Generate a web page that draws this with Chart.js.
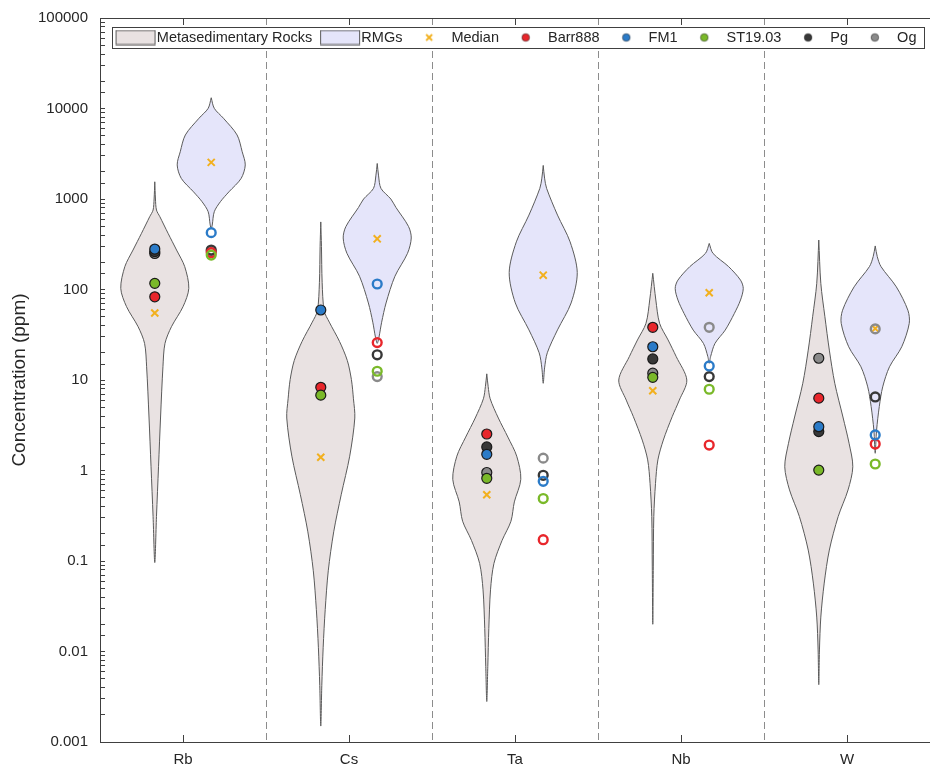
<!DOCTYPE html>
<html>
<head>
<meta charset="utf-8">
<title>Trace element concentrations – violin plot</title>
<script src="https://cdn.jsdelivr.net/npm/chart.js@4.4.1/dist/chart.umd.min.js"></script>
<style>
  html, body { margin: 0; padding: 0; background: #fff; }
  #wrap { position: relative; width: 930px; height: 769px; }
</style>
</head>
<body>
<div id="wrap"><canvas id="chart"></canvas></div>
<script>
// ── Data ──────────────────────────────────────────────────────────────────────

const CATEGORIES = ['Rb', 'Cs', 'Ta', 'Nb', 'W'];
const Y_MAJOR = [0.001, 0.01, 0.1, 1, 10, 100, 1000, 10000, 100000];
const Y_TICK_LABELS = ['0.001', '0.01', '0.1', '1', '10', '100', '1000', '10000', '100000'];

// violin outlines: [ppm, relative density], top tip to bottom tip
const META_RB = [[1550, 0], [1000, 0.02], [755, 0.05], [637, 0.15], [418, 0.39], [273, 0.64], [179, 0.88], [103, 1], [64.6, 0.83], [38.8, 0.49], [25.4, 0.3], [14, 0.24], [3.9, 0.17], [1.1, 0.11], [0.31, 0.05], [0.096, 0]];
const META_CS = [[558, 0], [300, 0.02], [120, 0.04], [58, 0.1], [43.6, 0.25], [26.7, 0.55], [16.4, 0.78], [10.1, 0.9], [6.2, 0.96], [3.8, 1], [1.44, 0.85], [0.54, 0.6], [0.21, 0.38], [0.078, 0.22], [0.029, 0.13], [0.011, 0.07], [0.0042, 0.03], [0.0015, 0]];
const META_TA = [[11.7, 0], [8.5, 0.04], [6.2, 0.1], [3.8, 0.34], [2.34, 0.62], [1.44, 0.88], [0.8, 1], [0.45, 0.81], [0.275, 0.71], [0.169, 0.45], [0.094, 0.21], [0.048, 0.11], [0.018, 0.06], [0.0068, 0.03], [0.0028, 0]];
const META_NB = [[151, 0], [76.6, 0.09], [42.3, 0.2], [27.7, 0.45], [18.1, 0.69], [10, 1], [6, 0.78], [3.93, 0.57], [2.17, 0.31], [1.31, 0.15], [0.72, 0.08], [0.31, 0.03], [0.086, 0.015], [0.02, 0]];
const META_W = [[352, 0], [117, 0.06], [50, 0.18], [21.4, 0.31], [9.2, 0.47], [3.9, 0.71], [2, 0.89], [1.1, 1], [0.61, 0.86], [0.31, 0.57], [0.132, 0.31], [0.057, 0.16], [0.024, 0.06], [0.0104, 0.02], [0.0043, 0]];

const RMG_RB = [[13150, 0], [10040, 0.09], [7800, 0.36], [5100, 0.76], [3330, 0.91], [2380, 1], [1690, 0.88], [1200, 0.52], [934, 0.27], [724, 0.09], [516, 0.03], [474, 0]];
const RMG_CS = [[2470, 0], [1800, 0.04], [1310, 0.11], [1000, 0.4], [807, 0.55], [497, 0.92], [371, 1], [251, 0.89], [140, 0.52], [71, 0.26], [43.5, 0.13], [29.5, 0.05], [25.4, 0]];
const RMG_TA = [[2350, 0], [1700, 0.04], [1310, 0.1], [664, 0.42], [336, 0.79], [154, 1], [71, 0.82], [35.8, 0.42], [20, 0.12], [13.6, 0.04], [9.2, 0]];
const RMG_NB = [[323, 0], [251, 0.11], [179, 0.57], [127, 0.92], [103, 1], [76.6, 0.92], [54.5, 0.74], [35.6, 0.47], [25.4, 0.17], [18.1, 0.04], [15.3, 0]];
const RMG_W = [[303, 0], [231, 0.06], [179, 0.17], [107, 0.62], [59, 0.96], [42.3, 1], [23.3, 0.78], [14, 0.42], [8.4, 0.22], [5.1, 0.12], [2.8, 0.04], [1.55, 0]];

const META_MEDIAN = [55, 1.4, 0.54, 7.6, 1.0];
const RMG_MEDIAN = [2540, 363, 144, 92, 37];

const SAMPLES = ['Barr888', 'FM1', 'ST19.03', 'Pg', 'Og'];
const BARR888_META = [83, 8.3, 2.53, 38.2, 6.3];
const FM1_META = [280, 59.4, 1.51, 23.3, 3.05];
const ST1903_META = [117, 6.8, 0.82, 10.7, 1.01];
const PG_META = [262, null, 1.82, 17.1, 2.69];
const OG_META = [250, null, 0.95, 11.9, 17.4];

const BARR888_RMG = [255, 25.9, 0.172, 1.91, 1.96];
const FM1_RMG = [425, 115, 0.76, 14.3, 2.47];
const ST1903_RMG = [240, 12.5, 0.49, 7.9, 1.18];
const PG_RMG = [273, 19, 0.885, 10.9, 6.5];
const OG_RMG = [265, 10.9, 1.37, 38.2, 36.7];

// ── Styling ───────────────────────────────────────────────────────────────────

const HALF_W = 0.205;   // widest violin half-width, category units
const OFFSET = 0.17;    // violin centre offset from the category tick
const META_FILL = 'rgb(233,226,226)';
const RMG_FILL = 'rgb(229,229,250)';
const OUTLINE = '#5a5a5a';
const AXIS = '#404040';
const TEXT = '#262626';
const MEDIAN_COLOR = '#f2b01e';
const SAMPLE_COLORS = ['#e8262b', '#2b7bc8', '#7ab929', '#383838', '#8a8a8a'];
const DRAW_ORDER = [2, 1, 0, 3, 4]; // first listed is drawn on top

Chart.defaults.font.family = "'Liberation Sans', Arial, Helvetica, sans-serif";
Chart.defaults.color = TEXT;

// ── Datasets ──────────────────────────────────────────────────────────────────

// closed outline: down the right side, back up the left side
function violinPath(profile, cx) {
  const right = profile.map(([v, d]) => ({ x: cx + d * HALF_W, y: v }));
  const left = profile.slice().reverse().map(([v, d]) => ({ x: cx - d * HALF_W, y: v }));
  return right.concat(left.slice(1));
}

const metaSamples = [BARR888_META, FM1_META, ST1903_META, PG_META, OG_META];
const rmgSamples = [BARR888_RMG, FM1_RMG, ST1903_RMG, PG_RMG, OG_RMG];

const datasets = [];

DRAW_ORDER.forEach(k => datasets.push({
  label: SAMPLES[k] + ' RMG',
  data: rmgSamples[k].map((v, i) => ({ x: i + 1 + OFFSET, y: v })),
  showLine: false,
  pointStyle: 'circle',
  pointRadius: 4.4,
  pointBorderWidth: 2.4,
  pointBorderColor: SAMPLE_COLORS[k],
  pointBackgroundColor: 'rgba(0,0,0,0)',
}));

DRAW_ORDER.forEach(k => datasets.push({
  label: SAMPLES[k],
  data: metaSamples[k].map((v, i) => ({ x: i + 1 - OFFSET, y: v })),
  showLine: false,
  pointStyle: 'circle',
  pointRadius: 5,
  pointBorderWidth: 1.2,
  pointBorderColor: '#1a1a1a',
  pointBackgroundColor: SAMPLE_COLORS[k],
}));

datasets.push({
  label: 'Median',
  data: META_MEDIAN.map((v, i) => ({ x: i + 1 - OFFSET, y: v }))
    .concat(RMG_MEDIAN.map((v, i) => ({ x: i + 1 + OFFSET, y: v }))),
  showLine: false,
  pointStyle: 'crossRot',
  pointRadius: 5,
  pointBorderWidth: 2,
  pointBorderColor: MEDIAN_COLOR,
});

const violinStyle = { borderColor: OUTLINE, borderWidth: 1, pointRadius: 0, fill: 'shape', tension: 0.3 };
[META_RB, META_CS, META_TA, META_NB, META_W].forEach((p, i) => datasets.push({
  label: 'Metasedimentary Rocks', data: violinPath(p, i + 1 - OFFSET), backgroundColor: META_FILL, ...violinStyle,
}));
[RMG_RB, RMG_CS, RMG_TA, RMG_NB, RMG_W].forEach((p, i) => datasets.push({
  label: 'RMGs', data: violinPath(p, i + 1 + OFFSET), backgroundColor: RMG_FILL, ...violinStyle,
}));

// ── Legend icons ──────────────────────────────────────────────────────────────
// Each icon canvas is centred on the legend's 36px box slot; drawn wider so the
// swatches reach the text and the markers sit in the middle of the slot.

function legendIcon(draw) {
  const c = document.createElement('canvas');
  c.width = 50; c.height = 16;
  draw(c.getContext('2d'));
  return c;
}
const swatch = fill => legendIcon(g => {
  g.fillStyle = fill; g.fillRect(9, 0.5, 40, 15);
  g.strokeStyle = OUTLINE; g.lineWidth = 1; g.strokeRect(9.5, 1, 39, 14);
});
const dot = color => legendIcon(g => {
  g.beginPath(); g.arc(28, 8, 3.8, 0, Math.PI * 2);
  g.fillStyle = color; g.fill();
  g.strokeStyle = 'rgba(0,0,0,0.55)'; g.lineWidth = 0.8; g.stroke();
});
const cross = legendIcon(g => {
  g.strokeStyle = MEDIAN_COLOR; g.lineWidth = 1.8;
  g.beginPath(); g.moveTo(25, 5); g.lineTo(31, 11); g.moveTo(31, 5); g.lineTo(25, 11); g.stroke();
});

const LEGEND_TEXT = ['Metasedimentary Rocks', 'RMGs', 'Median'].concat(SAMPLES);
const LEGEND_ICONS = [swatch(META_FILL), swatch(RMG_FILL), cross].concat(SAMPLE_COLORS.map(dot));

// white framed box behind the legend, which sits inside the plot area
const legendFrame = {
  id: 'legendFrame',
  afterDatasetsDraw(chart) {
    const lg = chart.legend;
    const hb = lg && lg.legendHitBoxes;
    if (!hb || !hb.length) return;
    const first = hb[0], last = hb[hb.length - 1];
    const x0 = Math.round(first.left - 2) + 0.5;
    const x1 = Math.round(last.left + last.width + 8) + 0.5;
    const y0 = Math.round(first.top - 3) + 0.5;
    const y1 = Math.round(first.top + first.height + 3) + 0.5;
    const ctx = chart.ctx;
    ctx.save();
    ctx.fillStyle = '#fff';
    ctx.fillRect(x0, y0, x1 - x0, y1 - y0);
    ctx.strokeStyle = AXIS;
    ctx.lineWidth = 1;
    ctx.strokeRect(x0, y0, x1 - x0, y1 - y0);
    ctx.restore();
    lg.bottom = lg.top + 40; // layout gave it no height, so open the clip
    lg.draw();
  },
};

// ── Chart ─────────────────────────────────────────────────────────────────────

const isHalf = c => c.tick && !Number.isInteger(c.tick.value);
const X_TICKS = CATEGORIES.flatMap((_, i) => (i ? [i + 0.5, i + 1] : [1]));

function yLabel(v) {
  const k = Y_MAJOR.findIndex(m => Math.abs(Math.log10(v) - Math.log10(m)) < 1e-6);
  return k < 0 ? '' : Y_TICK_LABELS[k];
}

// plot box is fixed, so drop the label overhang Chart.js reserves
function noOverhang(s) {
  s.paddingTop = 0; s.paddingBottom = 0; s.paddingLeft = 0; s.paddingRight = 0;
}

new Chart(document.getElementById('chart'), {
  type: 'line',
  data: { datasets },
  options: {
    responsive: true,
    maintainAspectRatio: false,
    animation: false,
    events: [],
    layout: { autoPadding: false, padding: { top: 18, left: 0, right: 0, bottom: 0 } },
    plugins: {
      tooltip: { enabled: false },
      legend: {
        position: 'top',
        fullSize: false,
        align: 'center',
        maxHeight: 0.01,
        title: { display: true, text: '', font: { size: 5 }, padding: { top: 0.5, bottom: 0 } },
        labels: {
          usePointStyle: true,
          pointStyleWidth: 36,
          boxHeight: 15,
          padding: 5.75,
          color: '#1a1a1a',
          font: { size: 14.5 },
          generateLabels: () => LEGEND_TEXT.map((t, i) => ({
            text: t, pointStyle: LEGEND_ICONS[i], fillStyle: 'rgba(0,0,0,0)',
            strokeStyle: 'rgba(0,0,0,0)', lineWidth: 0, hidden: false, datasetIndex: 0,
          })),
        },
      },
    },
    scales: {
      x: {
        type: 'linear',
        position: 'bottom',
        min: 0.5,
        max: 5.5,
        afterBuildTicks: s => { s.ticks = X_TICKS.map(v => ({ value: v })); },
        afterFit: s => { s.height = 27; noOverhang(s); },
        ticks: {
          autoSkip: false, maxRotation: 0, padding: 16, color: TEXT, font: { size: 15 },
          callback: v => (Number.isInteger(v) ? CATEGORIES[v - 1] : ''),
        },
        grid: {
          drawOnChartArea: true,
          tickLength: -7,
          lineWidth: 1,
          color: c => (isHalf(c) ? '#8c8c8c' : 'rgba(0,0,0,0)'),
          tickColor: c => (isHalf(c) ? 'rgba(0,0,0,0)' : AXIS),
        },
        border: { display: true, color: AXIS, width: 1, dash: c => (isHalf(c) ? [7, 4] : []) },
      },
      xTop: {
        type: 'linear',
        position: 'top',
        min: 0.5,
        max: 5.5,
        afterBuildTicks: s => { s.ticks = CATEGORIES.map((_, i) => ({ value: i + 1 })); },
        afterFit: s => { s.height = 0; noOverhang(s); },
        ticks: { display: false },
        grid: { drawOnChartArea: false, tickLength: -7, tickColor: AXIS },
        border: { display: true, color: AXIS, width: 1 },
      },
      y: {
        type: 'logarithmic',
        position: 'left',
        min: 0.001,
        max: 100000,
        afterFit: s => { s.width = 100; noOverhang(s); },
        ticks: { autoSkip: false, padding: 17, color: TEXT, font: { size: 15 }, callback: v => yLabel(v) },
        grid: { drawOnChartArea: false, tickLength: -5, tickColor: AXIS },
        border: { display: true, color: AXIS, width: 1 },
        title: {
          display: true, text: 'Concentration (ppm)', color: TEXT,
          font: { size: 19 }, padding: { top: 8.6, bottom: 0 },
        },
      },
    },
  },
  plugins: [legendFrame],
});
</script>
</body>
</html>
